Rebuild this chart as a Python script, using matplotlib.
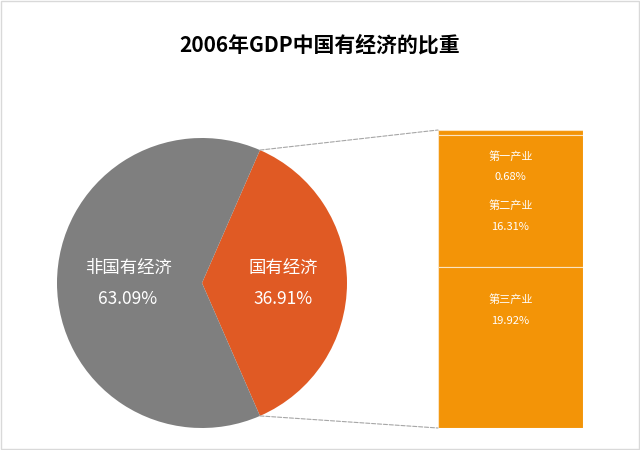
import numpy as np
import matplotlib.pyplot as plt
from matplotlib.patches import ConnectionPatch

plt.rcParams['font.family'] = ['Noto Sans CJK SC', 'DejaVu Sans']

pie_labels = ['国有经济', '非国有经济']
pie_values = [36.91, 63.09]
pie_colors = ['#e05a24', '#7f7f7f']

bar_labels = ['第一产业', '第二产业', '第三产业']
bar_values = [0.68, 16.31, 19.92]
bar_color = '#f39407'

fig = plt.figure(figsize=(6.4, 4.5), dpi=100)
fig.patches.append(plt.Rectangle((0.002, 0.002), 0.996, 0.996, transform=fig.transFigure,
                                 fill=False, edgecolor='#d9d9d9', linewidth=1))
ax = fig.add_axes([0, 0, 1, 1])
ax.set_xlim(0, 640)
ax.set_ylim(0, 450)
ax.axis('off')

cx, cy, r = 202, 167, 145
start = -pie_values[0] * 3.6 / 2
wedges, _ = ax.pie(pie_values, colors=pie_colors, startangle=start, center=(cx, cy),
                   radius=r, frame=True, wedgeprops=dict(linewidth=0))
ax.set_xlim(0, 640)
ax.set_ylim(0, 450)
ax.set_aspect('equal')
ax.axis('off')

dists = [0.56, 0.51]
acc = start
for lab, val, d in zip(pie_labels, pie_values, dists):
    mid = np.deg2rad(acc + val * 3.6 / 2)
    acc += val * 3.6
    x, y = cx + d * r * np.cos(mid), cy + d * r * np.sin(mid)
    ax.text(x, y + 15, lab, color='white', fontsize=12.5, ha='center', va='center')
    ax.text(x, y - 16, f'{val:.2f}%', color='white', fontsize=12.5, ha='center', va='center')

fig.text(0.5, 0.9, '2006年GDP中国有经济的比重', ha='center', va='center',
         fontsize=15, fontweight='bold')

bax = fig.add_axes([438 / 640, 22 / 450, 145 / 640, 298 / 450])
total = sum(bar_values)
bottoms = np.concatenate([[0], np.cumsum(bar_values)[:-1]])
bax.bar([0], bar_values, bottom=bottoms, width=1, color=bar_color,
        edgecolor='#fbe3c0', linewidth=0.8)
bax.set_xlim(-0.5, 0.5)
bax.set_ylim(total, 0)
bax.axis('off')
label_pos = [(3.3, 5.8), (9.3, 12.0), (21.0, 23.7)]
for lab, val, (ly, vy) in zip(bar_labels, bar_values, label_pos):
    bax.text(0, ly, lab, color='white', fontsize=8, ha='center', va='center')
    bax.text(0, vy, f'{val:.2f}%', color='white', fontsize=8, ha='center', va='center')

w = wedges[0]
for ang, yb in [(w.theta2, 0), (w.theta1, total)]:
    a = np.deg2rad(ang)
    con = ConnectionPatch(xyA=(cx + r * np.cos(a), cy + r * np.sin(a)), coordsA=ax.transData,
                          xyB=(-0.5, yb), coordsB=bax.transData,
                          color='#a6a6a6', linestyle='--', linewidth=0.8)
    fig.add_artist(con)

fig.savefig('out.png', dpi=100)
